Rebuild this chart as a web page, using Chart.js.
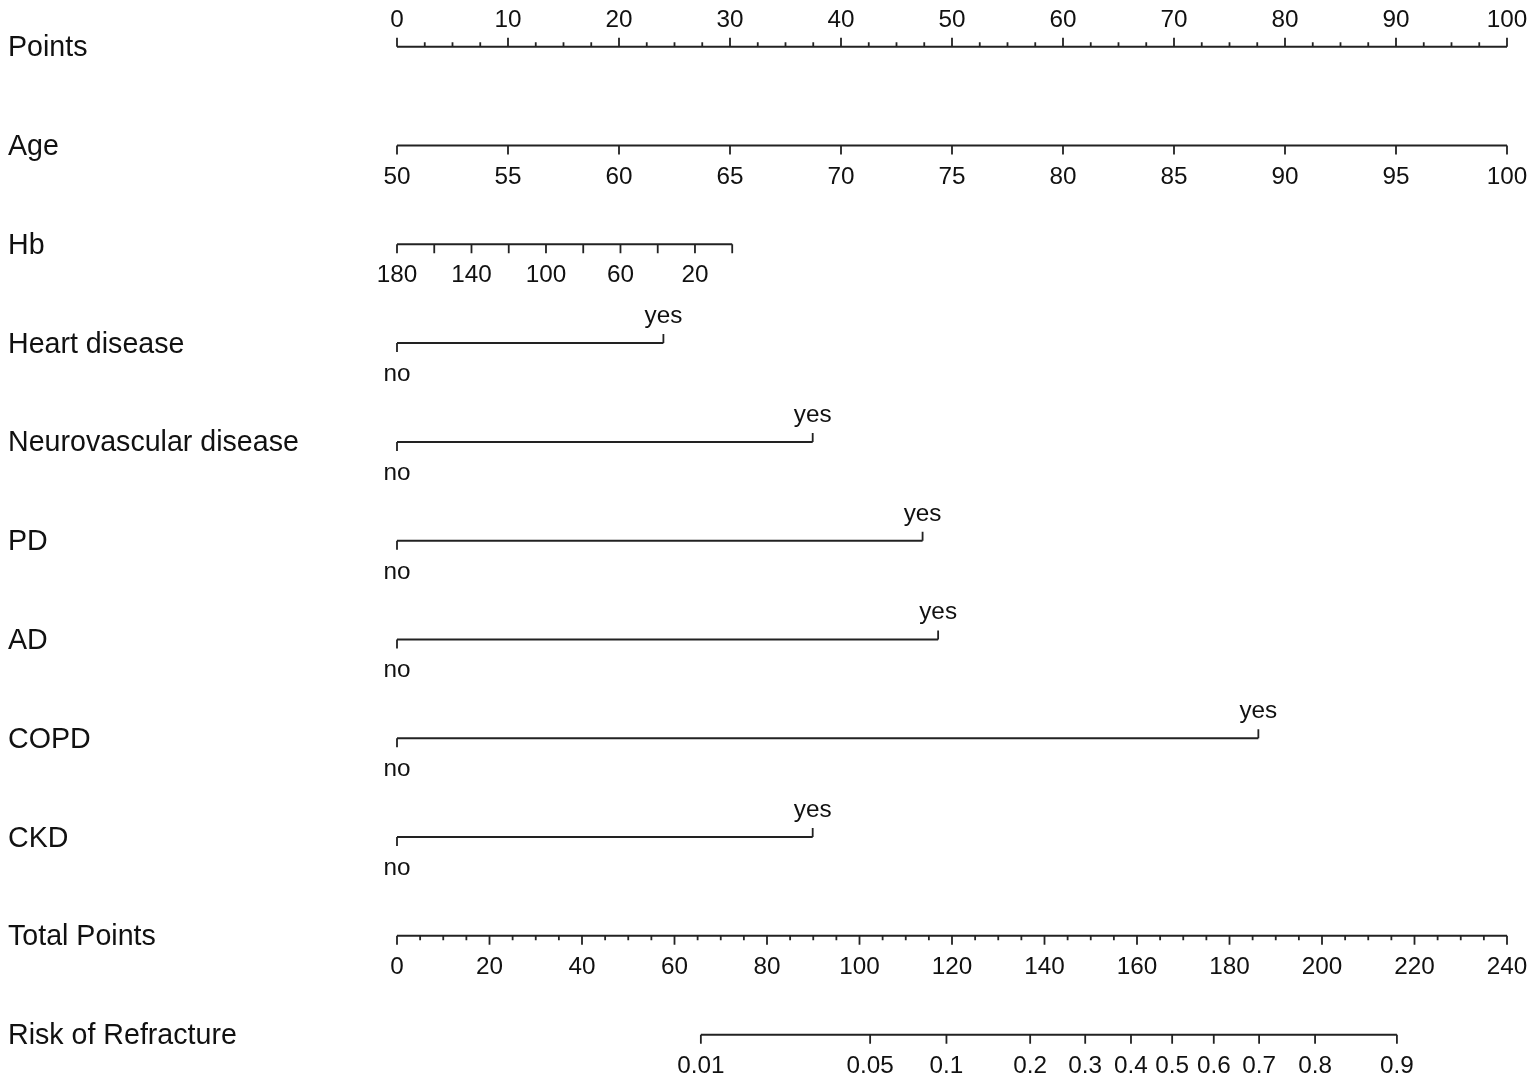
<!DOCTYPE html>
<html>
<head>
<meta charset="utf-8">
<script src="https://cdn.jsdelivr.net/npm/chart.js@4.4.1/dist/chart.umd.min.js"></script>
<style>
  html, body { margin: 0; padding: 0; background: #fff; }
  canvas { display: block; }
</style>
</head>
<body>
<canvas id="nomogram" width="1535" height="1081" style="width:1535px;height:1081px"></canvas>
<script>
// row labels, top to bottom
const rowNames = ['Points', 'Age', 'Hb', 'Heart disease', 'Neurovascular disease', 'PD', 'AD', 'COPD', 'CKD', 'Total Points', 'Risk of Refracture'];

// Points scale
const pointsTicks = [0, 10, 20, 30, 40, 50, 60, 70, 80, 90, 100];
const pointsMinorStep = 2.5;

// Age
const ageTicks = [50, 55, 60, 65, 70, 75, 80, 85, 90, 95, 100];
const ageMin = 50, ageMax = 100;

// Hb (reversed, 180 -> 0 points)
const hbTicks = [180, 160, 140, 120, 100, 80, 60, 40, 20, 0];
const hbLabels = [180, 140, 100, 60, 20];
const hbPointsAtZero = 30.2;

// yes / no predictors: points given for "yes"
const binaryNames = ['Heart disease', 'Neurovascular disease', 'PD', 'AD', 'COPD', 'CKD'];
const yesPoints = [24.0, 37.45, 47.35, 48.75, 77.6, 37.45];

// Total points
const totalTicks = [0, 20, 40, 60, 80, 100, 120, 140, 160, 180, 200, 220, 240];
const totalMinorStep = 5;
const totalMax = 240;

const riskLabels = ['0.01', '0.05', '0.1', '0.2', '0.3', '0.4', '0.5', '0.6', '0.7', '0.8', '0.9'];
const riskTotals = [65.7, 102.3, 118.8, 136.9, 148.8, 158.7, 167.6, 176.6, 186.4, 198.5, 216.2];

const ink = '#222';
const labelFont = '28.6px "Liberation Sans", Arial, sans-serif';
const tickFont = '24.3px "Liberation Sans", Arial, sans-serif';
const bigTick = 9, smallTick = 4.5;

// everything in "Points" units
const ageToPts = a => (a - ageMin) * 100 / (ageMax - ageMin);
const hbToPts = h => (180 - h) / 180 * hbPointsAtZero;
const totalToPts = t => t * 100 / totalMax;

// build axis specs: line extent + ticks (len < 0 means up)
const axes = [];
const minorPts = [];
for (let v = 0; v <= 100; v += pointsMinorStep) if (v % 10 !== 0) minorPts.push(v);
axes.push({
  row: 0, from: 0, to: 100,
  ticks: pointsTicks.map(v => ({ p: v, len: -bigTick, label: String(v), above: true }))
    .concat(minorPts.map(v => ({ p: v, len: -smallTick })))
});
axes.push({
  row: 1, from: ageToPts(ageMin), to: ageToPts(ageMax),
  ticks: ageTicks.map(v => ({ p: ageToPts(v), len: bigTick, label: String(v) }))
});
axes.push({
  row: 2, from: hbToPts(180), to: hbToPts(0),
  ticks: hbTicks.map(v => ({ p: hbToPts(v), len: bigTick, label: hbLabels.includes(v) ? String(v) : null }))
});
binaryNames.forEach((name, i) => {
  axes.push({
    row: rowNames.indexOf(name), from: 0, to: yesPoints[i],
    ticks: [
      { p: 0, len: bigTick, label: 'no' },
      { p: yesPoints[i], len: -bigTick, label: 'yes', above: true }
    ]
  });
});
const minorTot = [];
for (let v = 0; v <= totalMax; v += totalMinorStep) if (v % 20 !== 0) minorTot.push(v);
axes.push({
  row: 9, from: 0, to: 100,
  ticks: totalTicks.map(v => ({ p: totalToPts(v), len: bigTick, label: String(v) }))
    .concat(minorTot.map(v => ({ p: totalToPts(v), len: smallTick })))
});
axes.push({
  row: 10, from: totalToPts(riskTotals[0]), to: totalToPts(riskTotals[riskTotals.length - 1]),
  ticks: riskTotals.map((t, i) => ({ p: totalToPts(t), len: bigTick, label: riskLabels[i] }))
});

// the horizontal lines are plain line datasets
const datasets = axes.map(a => ({
  data: [{ x: a.from, y: a.row }, { x: a.to, y: a.row }],
  borderColor: ink,
  borderWidth: 2,
  pointRadius: 0,
  fill: false
}));

// ticks and text
const nomogramPlugin = {
  id: 'nomogram',
  beforeDraw(chart) {
    const c = chart.ctx;
    c.save();
    c.fillStyle = '#fff';
    c.fillRect(0, 0, chart.width, chart.height);
    c.restore();
  },
  afterDatasetsDraw(chart) {
    const c = chart.ctx;
    const xs = chart.scales.x, ys = chart.scales.y;
    c.save();
    c.strokeStyle = ink;
    c.fillStyle = '#111';
    c.lineWidth = 1.8;
    axes.forEach(a => {
      const y = ys.getPixelForValue(a.row);
      c.beginPath();
      a.ticks.forEach(t => {
        const x = xs.getPixelForValue(t.p);
        c.moveTo(x, y);
        c.lineTo(x, y + t.len);
      });
      c.stroke();
      c.font = tickFont;
      c.textAlign = 'center';
      c.textBaseline = 'alphabetic';
      a.ticks.forEach(t => {
        if (!t.label) return;
        const x = xs.getPixelForValue(t.p);
        c.fillText(t.label, x, t.above ? y - 20 : y + 38);
      });
    });
    // row names on the left
    c.font = labelFont;
    c.textAlign = 'left';
    rowNames.forEach((name, i) => {
      c.fillText(name, 8, ys.getPixelForValue(i) + 9.5);
    });
    c.restore();
  }
};

const ctx = document.getElementById('nomogram').getContext('2d');
const chart = new Chart(ctx, {
  type: 'line',
  data: { datasets: datasets },
  options: {
    responsive: false,
    animation: false,
    devicePixelRatio: 1,
    layout: { padding: { left: 397, right: 28, top: 0, bottom: 0 } },
    scales: {
      x: { type: 'linear', min: 0, max: 100, display: false },
      y: { type: 'linear', min: -0.473, max: 10.469, reverse: true, display: false }
    },
    plugins: {
      legend: { display: false },
      tooltip: { enabled: false }
    }
  },
  plugins: [nomogramPlugin]
});
</script>
</body>
</html>
